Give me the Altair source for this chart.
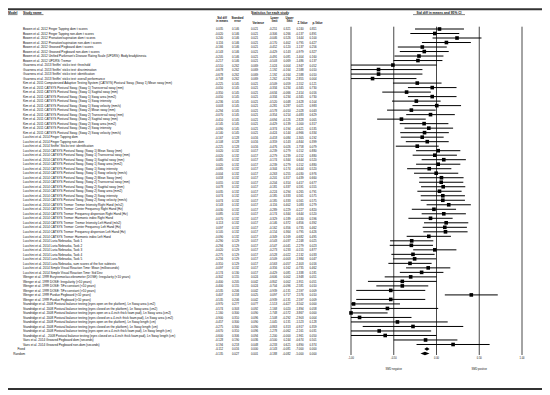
import math
import altair as alt
import pandas as pd

FONT = "Liberation Sans"

kim = "Kim et al. 2011 CATSYS Postural Sway, "
luc = "Lucchini et al. 2014 CATSYS Postural Sway, "
luct = "Lucchini et al. 2014 CATSYS Tremor: "
std = "Standridge et al. 2008 Postural balance testing "

study_names = [
    "Bowen et al. 2012 Finger Tapping dom t scores",
    "Bowen et al. 2012 Finger Tapping non-dom t scores",
    "Bowen et al. 2012 Pronation/supination dom t scores",
    "Bowen et al. 2012 Pronation/supination non-dom t scores",
    "Bowen et al. 2012 Grooved Pegboard dom t scores",
    "Bowen et al. 2012 Grooved Pegboard non-dom t scores",
    "Bowen et al. 2012 Unified Parkinson's Disease Rating Scale (UPDRS): Body bradykinesia",
    "Bowen et al. 2012 UPDRS: Tremor",
    "Guarnera et al. 2013 Sniffin' sticks test: threshold",
    "Guarnera et al. 2013 Sniffin' sticks test: discrimination",
    "Guarnera et al. 2013 Sniffin' sticks test: identification",
    "Guarnera et al. 2013 Sniffin' sticks test: overall performance",
    "Kim et al. 2011 Computerized Adaptive Testing System (CATSYS) Postural Sway, (Sway 1) Mean sway (mm)",
    kim + "(Sway 1) Transversal sway (mm)",
    kim + "(Sway 1) Sagittal sway (mm)",
    kim + "(Sway 1) Sway area (mm2)",
    kim + "(Sway 1) Sway intensity",
    kim + "(Sway 1) Sway velocity (mm/s)",
    kim + "(Sway 2) Mean sway (mm)",
    kim + "(Sway 2) Transversal sway (mm)",
    kim + "(Sway 2) Sagittal sway (mm)",
    kim + "(Sway 2) Sway area (mm2)",
    kim + "(Sway 2) Sway intensity",
    kim + "(Sway 2) Sway velocity (mm/s)",
    "Lucchini et al. 2014 Finger Tapping dom",
    "Lucchini et al. 2014 Finger Tapping non-dom",
    "Lucchini et al. 2014 Sniffin' Sticks test: identification",
    luc + "(Sway 1) Mean Sway (mm)",
    luc + "(Sway 1) Transversal sway (mm)",
    luc + "(Sway 1) Sagittal sway (mm)",
    luc + "(Sway 1) Sway area (mm2)",
    luc + "(Sway 1) Sway intensity",
    luc + "(Sway 1) Sway velocity (mm/s)",
    luc + "(Sway 2) Mean Sway (mm)",
    luc + "(Sway 2) Transversal sway (mm)",
    luc + "(Sway 2) Sagittal sway (mm)",
    luc + "(Sway 2) Sway area (mm2)",
    luc + "(Sway 2) Sway intensity",
    luc + "(Sway 2) Sway velocity (mm/s)",
    luct + "Tremor Intensity Right Hand (m/s2)",
    luct + "Center Frequency Right Hand (Hz)",
    luct + "Frequency dispersion Right Hand (Hz)",
    luct + "Harmonic index Right Hand",
    luct + "Tremor Intensity Left Hand (m/s2)",
    luct + "Center Frequency Left Hand (Hz)",
    luct + "Frequency dispersion Left Hand (Hz)",
    luct + "Harmonic index Left Hand",
    "Lucchini et al. 2014 Luria Nebraska, Task 1",
    "Lucchini et al. 2014 Luria Nebraska, Task 2",
    "Lucchini et al. 2014 Luria Nebraska, Task 3",
    "Lucchini et al. 2014 Luria Nebraska, Task 4",
    "Lucchini et al. 2014 Luria Nebraska, Task 5",
    "Lucchini et al. 2014 Luria Nebraska, sum scores of the five subtests",
    "Lucchini et al. 2014 Simple Visual Reaction Time: Mean (milliseconds)",
    "Lucchini et al. 2014 Simple Visual Reaction Time: Std Dev",
    "Wenger et al. 1999 Eurytremor/accelerometer (DOSE): Irregularity (<10 years)",
    "Wenger et al. 1999 DOSE: Irregularity (>10 years)",
    "Wenger et al. 1999 DOSE: TiFo constant (<10 years)",
    "Wenger et al. 1999 DOSE: TiFo constant (>10 years)",
    "Wenger et al. 1999 Purdue Pegboard (<10 years)",
    "Wenger et al. 1999 Purdue Pegboard (>10 years)",
    std + "(eyes open on the platform), Ln Sway area (cm2)",
    std + "(eyes closed on the platform), Ln Sway area (cm2)",
    std + "(eyes open on a 4-inch thick foam pad), Ln Sway area (cm2)",
    std + "(eyes closed on a 4-inch thick foam pad), Ln Sway area (cm2)",
    std + "(eyes open on the platform), Ln Sway length (cm)",
    std + "(eyes closed on the platform), Ln Sway length (cm)",
    std + "(eyes open on a 4-inch thick foam pad), Ln Sway length (cm)",
    "Standridge et al. , 2008 Postural balance testing (eyes closed on a 4-inch thick foam pad), Ln Sway length (cm)",
    "Vaes et al. 2014 Grooved Pegboard dom (seconds)",
    "Vaes et al. 2014 Grooved Pegboard non-dom (seconds)",
]

smd = [
    0.035, -0.020, 0.240, 0.116, -0.166, -0.143, -0.205, -0.217,
    -0.510, -0.678, -0.678, -0.748,
    -0.225, -0.050, -0.350, -0.050, -0.236, 0.003, -0.294, -0.070, -0.410, -0.145, -0.090, -0.140,
    -0.167, -0.108, -0.225,
    0.020, -0.020, 0.085, 0.020, -0.085, -0.004,
    0.058, 0.055, 0.078, 0.035, 0.074, 0.074,
    0.143, -0.030, 0.085, -0.070, 0.113, 0.097, 0.105, -0.090,
    -0.290, -0.294, -0.020, -0.275, -0.256, -0.310,
    -0.097, -0.174,
    -0.302, -0.400, -0.400, -0.535, 0.407, -0.535,
    -0.970, -0.574, -1.160, -0.900, -0.457, -0.275, -0.670, -0.600,
    -0.128, 0.194,
]

se = [
    0.146, 0.146, 0.146, 0.146, 0.146, 0.146, 0.146, 0.146,
    0.262, 0.262, 0.262, 0.262,
    0.145, 0.145, 0.145, 0.145, 0.145, 0.145, 0.145, 0.145, 0.145, 0.145, 0.145, 0.145,
    0.128, 0.128, 0.128,
    0.132, 0.132, 0.132, 0.132, 0.132, 0.132,
    0.132, 0.132, 0.132, 0.132, 0.132, 0.132,
    0.132, 0.132, 0.132, 0.132, 0.132, 0.132, 0.132, 0.132,
    0.129, 0.129, 0.129, 0.129, 0.129, 0.129,
    0.132, 0.130,
    0.155, 0.205, 0.155, 0.206, 0.158, 0.206,
    0.277, 0.303, 0.300, 0.310, 0.300, 0.300, 0.310, 0.306,
    0.190, 0.218,
]

summary_labels = ["Fixed", "Random"]
summary_smd = [-0.112, -0.135]
summary_se = [0.016, 0.027]

tick_values = [-1.0, -0.5, 0.0, 0.5, 1.0]
tick_labels = ["-1.00", "-0.50", "0.00", "0.50", "1.00"]
side_labels = ["SMD negative", "SMD positive"]
side_at = [-0.5, 0.5]


def row_stats(m, s):
    var = s * s
    lo = m - 1.96 * s
    hi = m + 1.96 * s
    z = m / s
    p = math.erfc(abs(z) / math.sqrt(2))
    return var, lo, hi, z, p


def build(names, means, ses, start):
    recs = []
    for i, (n, m, s) in enumerate(zip(names, means, ses)):
        var, lo, hi, z, p = row_stats(m, s)
        recs.append(dict(row=start + i, name=n, smd=m, lo=lo, hi=hi,
                         t_smd=f"{m:.3f}", t_se=f"{s:.3f}", t_var=f"{var:.3f}",
                         t_lo=f"{lo:.3f}", t_hi=f"{hi:.3f}", t_z=f"{z:.3f}",
                         t_p=f"{p:.3f}"))
    return pd.DataFrame(recs)


studies = build(study_names, smd, se, 0)
summ = build(summary_labels, summary_smd, summary_se, 71)
table = pd.concat([studies, summ], ignore_index=True)

# diamond outline points derived from the summary rows
drec = []
for _, r in summ.iterrows():
    drec.append(dict(key=r["name"], x=r["lo"], y=r["row"], y2=r["row"]))
    drec.append(dict(key=r["name"], x=r["smd"], y=r["row"] - 0.38, y2=r["row"] + 0.38))
    drec.append(dict(key=r["name"], x=r["hi"], y=r["row"], y2=r["row"]))
diamonds = pd.DataFrame(drec)

ticks = pd.DataFrame({"tick": tick_values, "label": tick_labels})
sides = pd.DataFrame({"at": side_at, "label": side_labels})

xs = alt.Scale(domain=[-1, 1], range=[343, 514], clamp=True)
ys = alt.Scale(domain=[0, 72], range=[21, 345.5])

X = lambda f: alt.X(f, scale=xs, axis=None)
Y = lambda f: alt.Y(f, scale=ys, axis=None)

layers = []


def hline(x1, x2, y, width, color="#333"):
    # a horizontal decorative line from pixel x1 to x2 (own scale per layer)
    return alt.Chart(pd.DataFrame({"a": [0], "b": [1]})).mark_rule(
        color=color, strokeWidth=width).encode(
        x=alt.X("a:Q", scale=alt.Scale(domain=[0, 1], range=[x1, x2]), axis=None),
        x2="b:Q", y=alt.value(y))


# frame lines
layers.append(hline(0, 534, 1.2, 2))
layers.append(hline(0, 534, 381, 2))


def label(text, x, y, align="center", bold=False, size=3.1):
    return alt.Chart(pd.DataFrame({"t": [text]})).mark_text(
        align=align, baseline="middle", font=FONT, fontSize=size,
        fontWeight="bold" if bold else "normal", color="#111").encode(
        x=alt.value(x), y=alt.value(y), text="t:N")


layers += [
    label("Model", 0, 4.7, "left", True, 3.3), hline(0, 9.5, 6.6, 0.5, "#111"),
    label("Study name", 15, 4.7, "left", True, 3.3), hline(15, 35.5, 6.6, 0.5, "#111"),
    label("Statistics for each study", 262, 4.7, "center", True, 3.3), hline(244, 280, 6.6, 0.5, "#111"),
    label("Std diff in means and 95% CI", 431, 4.7, "center", True, 3.3), hline(405, 457, 6.6, 0.5, "#111"),
]

for lines, cx in [(["Std diff", "in means"], 214), (["Standard", "error"], 229.5),
                  (["Lower", "limit"], 266.5), (["Upper", "limit"], 281.5)]:
    layers.append(label(lines[0], cx, 9.6, "center", True, 2.8))
    layers.append(label(lines[1], cx, 12.2, "center", True, 2.8))
for txt, cx in [("Variance", 250.3), ("Z-Value", 294.5), ("p-Value", 309.5)]:
    layers.append(label(txt, cx, 14.2, "center", True, 2.8))

# vertical reference lines
layers.append(alt.Chart(ticks).mark_rule(color="#333", strokeWidth=0.9).encode(
    x=X("tick:Q"), y=alt.value(18.7), y2=alt.value(347)))
layers.append(alt.Chart(ticks).mark_text(font=FONT, fontSize=2.6, color="#111", baseline="middle").encode(
    x=X("tick:Q"), y=alt.value(350.8), text="label:N"))
layers.append(alt.Chart(sides).mark_text(font=FONT, fontSize=2.6, color="#111", baseline="middle").encode(
    x=X("at:Q"), y=alt.value(361), text="label:N"))

# confidence intervals and point estimates
layers.append(alt.Chart(studies).mark_rule(color="black", strokeWidth=1).encode(
    x=X("lo:Q"), x2="hi:Q", y=Y("row:Q")))
layers.append(alt.Chart(studies).mark_square(color="black", size=13, opacity=1).encode(
    x=X("smd:Q"), y=Y("row:Q")))
layers.append(alt.Chart(diamonds).mark_area(color="black", orient="vertical").encode(
    x=X("x:Q"), y=Y("y:Q"), y2="y2:Q", detail="key:N"))

# table text
layers.append(alt.Chart(studies).mark_text(align="left", baseline="middle", font=FONT,
                                           fontSize=3.1, color="#111").encode(
    x=alt.value(15), y=Y("row:Q"), text="name:N"))
layers.append(alt.Chart(summ).mark_text(align="right", baseline="middle", font=FONT,
                                        fontSize=3.1, color="#111").encode(
    x=alt.value(17), y=Y("row:Q"), text="name:N"))

for field, xr in [("t_smd", 215), ("t_se", 231), ("t_var", 250), ("t_lo", 269),
                  ("t_hi", 282.5), ("t_z", 295.5), ("t_p", 308.5)]:
    layers.append(alt.Chart(table).mark_text(align="right", baseline="middle", font=FONT,
                                             fontSize=2.8, color="#111").encode(
        x=alt.value(xr), y=Y("row:Q"), text=f"{field}:N"))

chart = alt.layer(*layers).properties(
    width=534, height=383, autosize=alt.AutoSizeParams(type="none"), padding=0
).resolve_scale(x="independent", y="independent").configure_view(stroke=None)

chart.save("out.html", embed_options={"renderer": "svg", "actions": False})
